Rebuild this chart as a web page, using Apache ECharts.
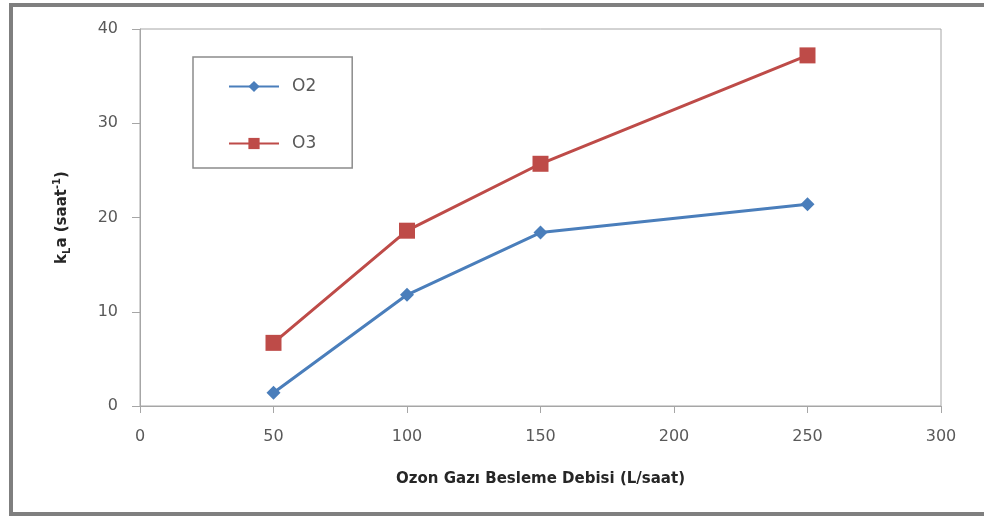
<!DOCTYPE html>
<html>
<head>
<meta charset="utf-8">
<script src="https://cdn.jsdelivr.net/npm/echarts@6/dist/echarts.min.js"></script>
<style>
  html, body { margin: 0; padding: 0; background: #fff; }
  #chart { width: 984px; height: 516px; }
</style>
</head>
<body>
<div id="chart"></div>
<script>
// Ozone feed flow rate (L/saat) and measured kLa values
const flowRates = [50, 100, 150, 250];
const o2Values = [1.4, 11.8, 18.4, 21.4];
const o3Values = [6.7, 18.6, 25.7, 37.2];
const xTicks = { min: 0, max: 300, step: 50 };
const yTicks = { min: 0, max: 40, step: 10 };

const labelFont = 'DejaVu Sans';
const axisGray = '#a6a6a6';
const textGray = '#595959';

const chart = echarts.init(document.getElementById('chart'), null, { renderer: 'canvas' });

const pairs = (xs, ys) => xs.map((x, i) => [x, ys[i]]);

chart.setOption({
  animation: false,
  backgroundColor: '#ffffff',
  graphic: [{
    type: 'rect',
    shape: { x: 11, y: 5, width: 990, height: 509 },
    style: { fill: 'none', stroke: '#7f7f7f', lineWidth: 4 },
    silent: true
  }],
  grid: {
    left: 140, right: 43, top: 29, bottom: 110,
    show: true, borderColor: axisGray, borderWidth: 1
  },
  legend: {
    orient: 'vertical',
    left: 193, top: 57,
    padding: [21, 36, 16, 35],
    itemGap: 40,
    itemWidth: 50,
    itemHeight: 14,
    borderColor: '#8c8c8c',
    borderWidth: 1.5,
    textStyle: { fontFamily: labelFont, fontSize: 17, color: textGray, padding: [0, 0, 0, 8] },
    data: ['O2', 'O3']
  },
  xAxis: {
    type: 'value',
    min: xTicks.min, max: xTicks.max, interval: xTicks.step,
    name: 'Ozon Gazı Besleme Debisi (L/saat)',
    nameLocation: 'middle',
    nameGap: 66,
    nameTextStyle: { fontFamily: labelFont, fontSize: 15, fontWeight: 'bold', color: '#262626' },
    axisLine: { show: true, lineStyle: { color: axisGray, width: 1 } },
    axisTick: { show: true, inside: false, length: 7, lineStyle: { color: axisGray } },
    axisLabel: { fontFamily: labelFont, fontSize: 16, color: textGray, margin: 23 },
    splitLine: { show: false }
  },
  yAxis: {
    type: 'value',
    min: yTicks.min, max: yTicks.max, interval: yTicks.step,
    name: '{a|k}{s|L}{a|a (saat}{p|-1}{a|)}',
    nameLocation: 'middle',
    nameRotate: 90,
    nameGap: 68,
    nameTextStyle: {
      fontFamily: labelFont, fontSize: 15, fontWeight: 'bold', color: '#262626',
      rich: {
        a: { fontFamily: labelFont, fontSize: 15, fontWeight: 'bold', color: '#262626', lineHeight: 20 },
        s: { fontFamily: labelFont, fontSize: 10, fontWeight: 'bold', color: '#262626', lineHeight: 20, verticalAlign: 'bottom' },
        p: { fontFamily: labelFont, fontSize: 10, fontWeight: 'bold', color: '#262626', lineHeight: 20, verticalAlign: 'top' }
      }
    },
    axisLine: { show: true, lineStyle: { color: axisGray, width: 1 } },
    axisTick: { show: true, inside: false, length: 8, lineStyle: { color: axisGray } },
    axisLabel: { fontFamily: labelFont, fontSize: 16, color: textGray, margin: 22 },
    splitLine: { show: false }
  },
  series: [
    {
      name: 'O2',
      type: 'line',
      data: pairs(flowRates, o2Values),
      symbol: 'diamond',
      symbolSize: 14,
      color: '#4a7ebb',
      lineStyle: { width: 3, color: '#4a7ebb' },
      itemStyle: { color: '#4a7ebb' }
    },
    {
      name: 'O3',
      type: 'line',
      data: pairs(flowRates, o3Values),
      symbol: 'rect',
      symbolSize: 16,
      color: '#be4b48',
      lineStyle: { width: 3, color: '#be4b48' },
      itemStyle: { color: '#be4b48' }
    }
  ]
});
</script>
</body>
</html>
